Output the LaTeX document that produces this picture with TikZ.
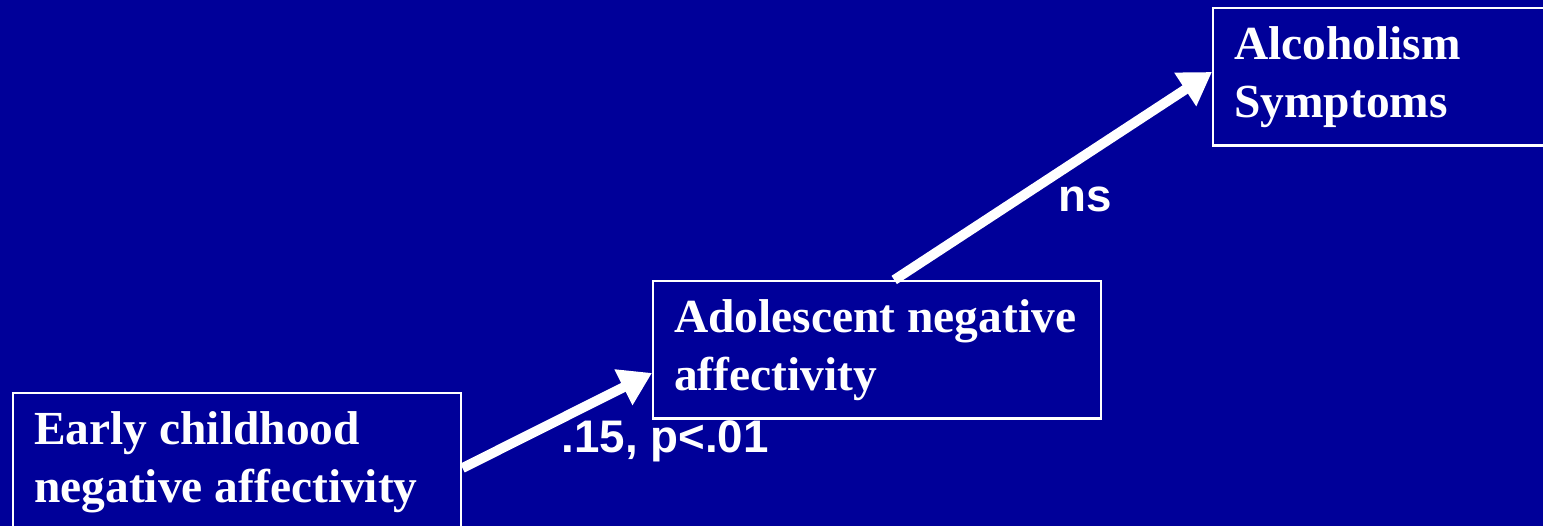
\documentclass[tikz,border=0pt]{standalone}
\usepackage{fontspec}
\setmainfont{Liberation Serif}
\newfontfamily\labelfont{Liberation Sans}
\usetikzlibrary{arrows.meta}
\begin{document}
\begin{tikzpicture}[>={Triangle[length=3.2mm,width=3.8mm]},
		varbox/.style={draw=white, line width=0.7pt, text=white, align=flush left,
			text width=4.06cm, inner xsep=2.1mm, inner ysep=1.8mm, anchor=north west,
			font=\fontsize{13.5}{16.6}\selectfont\bfseries},
		pathlabel/.style={text=white, anchor=base west, inner sep=0pt,
			font=\labelfont\fontsize{13}{15}\selectfont\bfseries},
		patharrow/.style={->, white, line width=2.8pt}]
				\definecolor{slideblue}{RGB}{0, 0, 153}
				\useasboundingbox (0,0) rectangle (15.43,5.26);
				\fill[slideblue] (0,0) rectangle (15.43,5.26);
				% the three measures
				\node[varbox] (early) at (0.12,1.34) {Early childhood\\negative affectivity};
				\node[varbox] (adol) at (6.52,2.46) {Adolescent negative\\affectivity};
				\node[varbox] (alc) at (12.12,5.19) {Alcoholism\\Symptoms};
				% paths
				\draw[patharrow] ([yshift=-0.6mm]early.east) -- ([yshift=-2.3mm]adol.west);
				\draw[patharrow] ([xshift=1.7mm]adol.north) -- ([yshift=0.5mm]alc.west);
				\node[pathlabel] (coef) at (5.61,0.73) {.15, p<.01};
				\node[pathlabel] (ns) at (10.58,3.14) {ns};
			\end{tikzpicture}
\end{document}
